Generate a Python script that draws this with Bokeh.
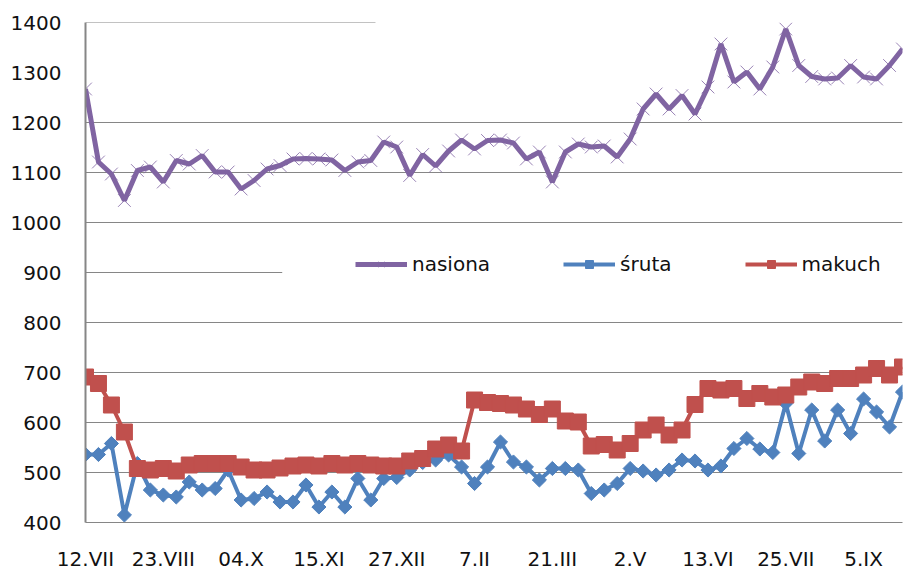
from bokeh.plotting import figure
from bokeh.models import Range1d, FixedTicker, Legend, LegendItem
from bokeh.embed import file_html
from bokeh.resources import INLINE

# weekly observations, 12.VII ... (64 weeks)
weeks = list(range(64))
nasiona = [1267, 1121, 1097, 1044, 1104, 1111, 1081, 1124, 1117, 1134, 1101, 1101, 1067, 1084, 1107, 1114, 1127,
           1128, 1127, 1125, 1104, 1121, 1124, 1161, 1151, 1094, 1136, 1113, 1143, 1165, 1147, 1164, 1165, 1159,
           1127, 1141, 1081, 1141, 1157, 1151,
           1153, 1131, 1167, 1227, 1257, 1227, 1254, 1217, 1271, 1357, 1281, 1301, 1267, 1311, 1387, 1314, 1292,
           1287, 1289, 1314, 1291, 1287, 1314, 1347]
sruta = [536, 536, 558, 415, 518, 465, 455, 451, 481, 465, 468, 505, 445, 448, 461, 441, 441,
         475, 431, 461, 431, 488, 445, 488, 490, 505, 520, 525, 535, 511, 478, 511, 561, 521, 511, 485, 508,
         508, 505, 458,
         465, 478, 508, 503, 495, 505, 525, 523, 505, 513, 548, 568, 547, 540, 638, 538, 625, 563, 625, 578,
         647, 621, 591, 661]
makuch = [691, 678, 635, 581, 508, 505, 508, 503, 515, 518, 518, 518, 511, 505, 505, 509, 513,
          515, 513, 518, 515, 518, 515, 513, 513, 523, 528, 547, 555, 543, 645, 640, 638, 635, 627, 616, 627,
          603, 601, 553,
          556, 545, 558, 585, 595, 575, 585, 636, 668, 665, 668, 648, 658, 651, 655, 671, 681, 678, 688, 688,
          695, 708, 695, 711]

tick_pos = [0, 6, 12, 18, 24, 30, 36, 42, 48, 54, 60]
tick_labels = ["12.VII", "23.VIII", "04.X", "15.XI", "27.XII", "7.II", "21.III", "2.V", "13.VI", "25.VII", "5.IX"]
y_ticks = [400, 500, 600, 700, 800, 900, 1000, 1100, 1200, 1300, 1400]
full_grid = [500, 600, 700, 800, 1000, 1100, 1200]
partial_grid_vals = [1400, 900]
partial_grid_end = [22.36, 15.17]

FONT = "DejaVu Sans"
GRID = "#868686"
PURPLE = "#8064A2"
BLUE = "#4F81BD"
RED = "#C0504D"

p = figure(width=904, height=573, output_backend="svg", toolbar_location=None,
           x_range=Range1d(0, 63), y_range=Range1d(400, 1400),
           min_border_left=85, min_border_right=2, min_border_top=22, min_border_bottom=49)
p.outline_line_color = None
p.background_fill_color = "white"

p.xgrid.visible = False
p.ygrid.ticker = FixedTicker(ticks=full_grid)
p.ygrid.grid_line_color = GRID
p.ygrid.grid_line_width = 1

p.segment(x0=[0] * len(partial_grid_vals), y0=partial_grid_vals,
          x1=partial_grid_end, y1=partial_grid_vals, line_color=GRID, line_width=1)

p.yaxis.ticker = FixedTicker(ticks=y_ticks)
p.yaxis.major_tick_out = 0
p.yaxis.major_tick_in = 0
p.yaxis.minor_tick_out = 0
p.yaxis.minor_tick_in = 0
p.yaxis.major_label_standoff = 24
p.yaxis.axis_line_color = GRID
p.yaxis.axis_line_width = 2

p.xaxis.ticker = FixedTicker(ticks=tick_pos)
p.xaxis.major_label_overrides = {t: l for t, l in zip(tick_pos, tick_labels)}
p.xaxis.major_tick_out = 0
p.xaxis.major_tick_in = 0
p.xaxis.minor_tick_out = 0
p.xaxis.minor_tick_in = 0
p.xaxis.major_label_standoff = 24
p.xaxis.axis_line_color = GRID
p.xaxis.axis_line_width = 1

for ax in (p.xaxis, p.yaxis):
    ax.major_label_text_font = FONT
    ax.major_label_text_font_size = "20px"
    ax.major_label_text_color = "#111111"

l1 = p.line(weeks, nasiona, line_color=PURPLE, line_width=5)
m1 = p.scatter(weeks, nasiona, marker="x", size=18, line_color=PURPLE, line_width=1, line_alpha=0.8)
l2 = p.line(weeks, sruta, line_color=BLUE, line_width=4)
m2 = p.scatter(weeks, sruta, marker="square", angle=0.785, size=10, fill_color=BLUE, line_color=BLUE)
l3 = p.line(weeks, makuch, line_color=RED, line_width=4)
m3 = p.scatter(weeks, makuch, marker="square", size=16, fill_color=RED, line_color=RED)

legend = Legend(items=[LegendItem(label="nasiona", renderers=[l1, m1]),
                       LegendItem(label="śruta", renderers=[l2, m2]),
                       LegendItem(label="makuch", renderers=[l3, m3])],
                location=(270, 246), orientation="horizontal",
                glyph_width=52, glyph_height=20, label_standoff=5, spacing=73,
                padding=0, margin=0, border_line_alpha=0, background_fill_alpha=0,
                label_text_font=FONT, label_text_font_size="20px", label_text_color="#111111")
p.add_layout(legend)

open("out.html", "w").write(file_html(p, INLINE))
